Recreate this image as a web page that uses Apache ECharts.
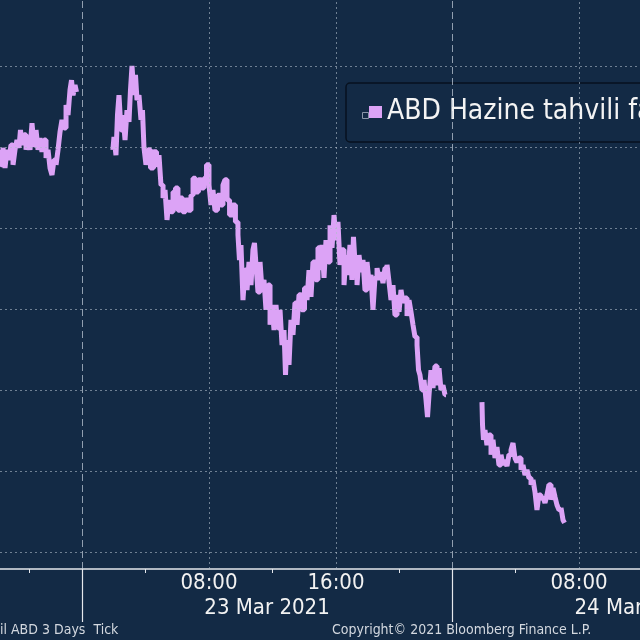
<!DOCTYPE html>
<html>
<head>
<meta charset="utf-8">
<script src="https://cdn.jsdelivr.net/npm/echarts@6/dist/echarts.min.js"></script>
<style>
html,body{margin:0;padding:0;background:#132a45;}
#chart{width:640px;height:640px;}
</style>
</head>
<body>
<div id="chart"></div>
<script>
// x: chart hours relative to 23 Mar 2021 00:00 (Bloomberg compressed time scale)
// y: yield (%)
const seriesName = 'ABD Hazine tahvili faizi';
const hours = [
 -5.17,-5.04,-4.91,-4.79,-4.66,-4.54,-4.41,-4.28,-4.16,-4.03,-3.91,-3.84,-3.72,-3.59,-3.46,-3.34,-3.21,-3.09,-2.96,-2.83,
 -2.71,-2.58,-2.46,-2.33,-2.20,-2.08,-1.95,-1.83,-1.70,-1.57,-1.45,-1.32,-1.20,-1.07,-0.94,-0.82,-0.69,-0.63,-0.50,-0.38,-0.31,
 -0.30, 1.94,
 1.95,2.08,2.20,2.27,2.39,2.52,2.65,2.77,2.90,3.02,3.09,3.21,3.34,3.40,3.53,3.65,3.78,3.84,3.97,4.09,4.22,4.41,4.60,4.79,4.91,
 5.04,5.17,5.29,5.42,5.54,5.67,5.80,5.98,6.11,6.24,6.43,6.61,6.80,6.93,7.06,7.24,7.43,7.62,7.75,7.94,8.06,8.19,8.31,8.44,8.63,
 8.82,8.94,9.07,9.20,9.39,9.57,9.76,9.89,9.95,10.08,10.20,10.33,10.46,10.58,10.71,10.83,10.90,11.02,11.15,11.28,11.40,11.53,
 11.65,11.78,11.91,12.03,12.16,12.28,12.41,12.54,12.66,12.79,12.85,12.98,13.10,13.23,13.35,13.48,13.61,13.73,13.92,14.11,14.24,
 14.36,14.49,14.61,14.80,14.93,15.06,15.18,15.31,15.43,15.56,15.69,15.81,15.94,16.06,16.19,16.31,16.44,16.57,16.69,16.82,16.94,
 17.07,17.13,17.26,17.39,17.51,17.64,17.76,17.89,18.02,18.14,18.27,18.39,18.52,18.65,18.77,18.90,19.02,19.15,19.28,19.40,19.53,
 19.65,19.78,19.91,20.03,20.16,20.28,20.41,20.54,20.66,20.79,20.91,21.04,21.17,21.23,21.35,21.48,21.61,21.73,21.80,21.92,22.05,
 22.17,22.30,22.43,22.55,22.68,22.80,22.93,
 22.94, 25.19,
 25.20,25.26,25.32,25.45,25.57,25.70,25.83,25.95,26.08,26.20,26.33,26.46,26.58,26.71,26.83,26.96,27.09,27.21,27.34,27.46,27.59,
 27.72,27.84,27.97,28.09,28.22,28.35,28.47,28.60,28.72,28.85,28.98,29.10,29.23,29.35,29.48,29.61,29.73,29.86,29.98,30.11,30.24,
 30.36,30.43
];
const yields = [
 1.6793,1.6756,1.6798,1.6748,1.6793,1.6768,1.6805,1.6756,1.6793,1.6817,1.6798,1.6842,1.6805,1.6830,1.6793,1.6817,1.6793,1.6859,1.6805,1.6842,
 1.6793,1.6822,1.6788,1.6817,1.6773,1.6793,1.6748,1.6731,1.6768,1.6756,1.6793,1.6837,1.6867,1.6847,1.6904,1.6879,1.6941,1.6965,1.6928,1.6953,1.6936,
 null, null,
 1.6793,1.6825,1.6780,1.6879,1.6928,1.6842,1.6879,1.6817,1.6891,1.6862,1.6941,1.7000,1.6928,1.6978,1.6916,1.6928,1.6867,1.6891,1.6798,1.6756,1.6793,1.6748,1.6788,1.6756,1.6780,
 1.6706,1.6674,1.6694,1.6620,1.6669,1.6640,1.6689,1.6699,1.6644,1.6674,1.6640,1.6669,1.6644,1.6681,1.6723,1.6689,1.6719,1.6699,1.6723,1.6756,1.6706,1.6657,1.6694,1.6644,1.6681,
 1.6657,1.6706,1.6719,1.6669,1.6632,1.6657,1.6615,1.6583,1.6521,1.6558,1.6422,1.6496,1.6447,1.6516,1.6459,1.6546,1.6563,1.6509,1.6442,1.6516,1.6447,1.6472,
 1.6398,1.6459,1.6361,1.6410,1.6348,1.6410,1.6353,1.6398,1.6311,1.6348,1.6237,1.6323,1.6262,1.6373,1.6336,1.6415,1.6361,1.6435,1.6398,1.6452,1.6422,
 1.6496,1.6430,1.6516,1.6472,1.6551,1.6496,1.6558,1.6477,1.6570,1.6516,1.6607,1.6551,1.6632,1.6570,1.6615,1.6509,1.6546,1.6459,1.6533,1.6484,1.6558,
 1.6472,1.6578,1.6516,1.6459,1.6533,1.6491,1.6521,1.6447,1.6516,1.6467,1.6484,1.6398,1.6477,1.6501,1.6472,1.6491,1.6464,1.6501,1.6509,1.6467,1.6422,
 1.6459,1.6385,1.6435,1.6393,1.6447,1.6415,1.6427,1.6383,1.6422,1.6393,1.6361,1.6331,1.6311,1.6249,1.6237,1.6200,1.6225,1.6175,1.6133,1.6188,1.6249,
 1.6205,1.6259,1.6212,1.6254,1.6200,1.6212,1.6188,
 null, null,
 1.6170,1.6114,1.6077,1.6101,1.6064,1.6089,1.6040,1.6077,1.6032,1.6059,1.6015,1.6040,1.6015,1.6027,1.6012,1.6040,1.6052,1.6069,1.6032,1.6022,1.6032,
 1.6003,1.6015,1.5990,1.6003,1.5983,1.5966,1.5978,1.5948,1.5904,1.5941,1.5929,1.5936,1.5921,1.5941,1.5966,1.5929,1.5958,1.5936,1.5916,1.5904,1.5909,
 1.5879,1.5872
];
const yGridValues = [1.58, 1.60, 1.62, 1.64, 1.66, 1.68, 1.70];
const hourGridValues = [8, 16, 31.31];
const hourLabels = ['08:00', '16:00', '08:00'];
const dayBreakValues = [0, 23.31];
const minorTickValues = [-3.31, 4, 12, 20, 27.31];
const dateCenterValues = [11.655, 34.97];
const dateLabels = ['23 Mar 2021', '24 Mar 2021'];
const xMin = -5.165, xMax = 35.15;
const yMin = 1.5758, yMax = 1.7163;

const FONT = '"DejaVu Sans Condensed", "DejaVu Sans", sans-serif';
const data = hours.map((h, i) => [h, yields[i] === null ? '-' : yields[i]]);
function lookup(vals, labels) {
  return v => { for (let i = 0; i < vals.length; i++) if (Math.abs(vals[i] - v) < 1e-6) return labels[i]; return ''; };
}
const gridColor = 'rgba(175,188,202,0.6)';
const chart = echarts.init(document.getElementById('chart'), null, {renderer: 'canvas'});
chart.setOption({
  backgroundColor: '#132a45',
  animation: false,
  grid: {left: 0, right: 0, top: 0, bottom: 71, containLabel: false, outerBoundsMode: 'none'},
  legend: {
    data: [seriesName],
    left: 346, top: 83,
    padding: [15, 40, 16, 23],
    backgroundColor: '#132a45',
    borderColor: '#07111f',
    borderWidth: 1.5,
    borderRadius: 4,
    itemWidth: 13, itemHeight: 12,
    icon: 'rect',
    textStyle: {color: '#f4f4f4', fontSize: 28, fontFamily: FONT}
  },
  xAxis: [{
    type: 'value', min: xMin, max: xMax, position: 'bottom',
    axisLine: {show: true, lineStyle: {color: '#e6e8ec', width: 1.5}},
    axisTick: {show: true, customValues: minorTickValues, length: 4, lineStyle: {color: '#e6e8ec', width: 1}},
    axisLabel: {customValues: hourGridValues, formatter: lookup(hourGridValues, hourLabels),
      color: '#f2f2f2', fontSize: 22, fontFamily: FONT, margin: 3, hideOverlap: false},
    splitLine: {show: false}
  }, {
    type: 'value', min: xMin, max: xMax, position: 'bottom',
    axisLine: {show: false},
    axisTick: {show: true, customValues: dayBreakValues, length: 53, lineStyle: {color: '#e6e8ec', width: 1.2}},
    axisLabel: {customValues: dateCenterValues, formatter: lookup(dateCenterValues, dateLabels),
      color: '#f2f2f2', fontSize: 22, fontFamily: FONT, margin: 28, hideOverlap: false},
    splitLine: {show: false}
  }],
  yAxis: {type: 'value', min: yMin, max: yMax, show: false, splitLine: {show: false}},
  series: [{
    name: 'grid', type: 'line', data: data, silent: true, z: 1,
    showSymbol: false, lineStyle: {opacity: 0},
    markLine: {
      silent: true, symbol: ['none', 'none'], label: {show: false}, animation: false,
      data: [
        ...yGridValues.map(v => ({yAxis: v, lineStyle: {type: [2, 3], color: gridColor, width: 1}})),
        ...hourGridValues.map(v => ({xAxis: v, lineStyle: {type: [2, 3], color: gridColor, width: 1}})),
        ...dayBreakValues.map(v => ({xAxis: v, lineStyle: {type: [7, 4], color: 'rgba(200,210,222,0.7)', width: 1}}))
      ]
    }
  }, {
    name: seriesName, type: 'line', data: data, z: 3,
    step: 'middle', connectNulls: false,
    showSymbol: false, symbol: 'none',
    color: '#dca3f6',
    lineStyle: {color: '#dca3f6', width: 5, join: 'bevel'}
  }],
  graphic: [
    {type: 'rect', z: 100, left: 360, top: 110, shape: {width: 6, height: 6}, style: {fill: 'none', stroke: '#8a96a8', lineWidth: 1}},
    {type: 'text', left: 0, top: 623, style: {text: 'il ABD 3 Days  Tick', fill: '#d3d8df', font: '14px ' + FONT}},
    {type: 'text', left: 332, top: 623, style: {text: 'Copyright\u00a9 2021 Bloomberg Finance L.P.', fill: '#d3d8df', font: '14px ' + FONT}}
  ]
});
</script>
</body>
</html>
